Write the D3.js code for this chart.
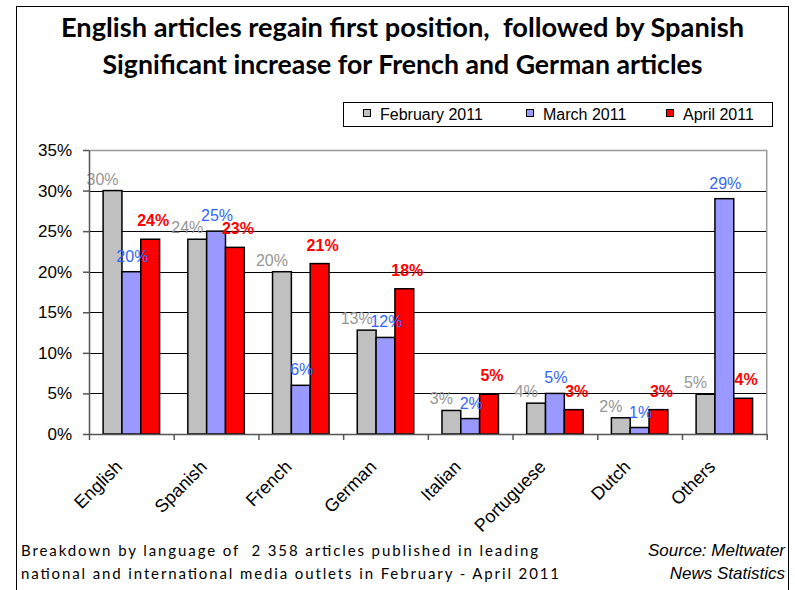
<!DOCTYPE html>
<html>
<head>
<meta charset="utf-8">
<script src="https://cdn.jsdelivr.net/npm/d3@7"></script>
<style>
  body { margin: 0; background: #fff; }
  text { font-family: "Liberation Sans", Arial, sans-serif; }
</style>
</head>
<body>
<div id="chart"></div>
<script>
// data
var languages = ["English", "Spanish", "French", "German", "Italian", "Portuguese", "Dutch", "Others"];
var seriesNames = ["February 2011", "March 2011", "April 2011"];
var february = [0.30, 0.24, 0.20, 0.128, 0.029, 0.038, 0.02, 0.049];
var march    = [0.20, 0.25, 0.06, 0.119, 0.019, 0.05, 0.008, 0.29];
var april    = [0.24, 0.23, 0.21, 0.179, 0.049, 0.03, 0.03, 0.044];
var yTicks = [0, 0.05, 0.10, 0.15, 0.20, 0.25, 0.30, 0.35];
var titleLines = ["English articles regain first position,  followed by Spanish",
                  "Significant increase for French and German articles"];
var noteLines = ["Breakdown by language of  2 358 articles published in leading",
                 "national and international media outlets in February - April 2011"];
var sourceLines = ["Source: Meltwater", "News Statistics"];

var W = 795, H = 590;
var barColors = ["#c0c0c0", "#9999ff", "#ff0000"];
var labelColors = ["#969696", "#3366ff", "#ff0000"];
var labelWeights = ["normal", "normal", "bold"];
var labelDx = [-10, 1, 3];      // nudges of the value labels per series
var labelDy = [-6, -10, -13];

var svg = d3.select("#chart")
  .append("svg")
    .attr("width", W)
    .attr("height", H);

svg.append("rect")
  .attr("width", W).attr("height", H).attr("fill", "#fff");

// outer frame
svg.append("rect")
  .attr("x", 16.5).attr("y", 6.5)
  .attr("width", 772).attr("height", 600)
  .attr("fill", "none").attr("stroke", "#000").attr("stroke-width", 1);

// title
var titleWidths = [683, 600];
svg.selectAll("text.title")
  .data(titleLines)
  .enter()
  .append("text")
    .attr("class", "title")
    .attr("x", 402.5)
    .attr("y", function(d, i){ return 37 + i * 37 })
    .attr("text-anchor", "middle")
    .attr("textLength", function(d, i){ return titleWidths[i] })
    .attr("lengthAdjust", "spacingAndGlyphs")
    .style("white-space", "pre")
    .style("font-family", "Lato, 'Open Sans', sans-serif")
    .style("font-weight", "bold")
    .style("font-size", "26px")
    .text(function(d){ return d });

// scales
var plot = {left: 89, right: 766.7, top: 150, bottom: 434};

var x0 = d3.scaleBand()
  .domain(languages)
  .range([plot.left, plot.right])
  .paddingInner(1/3)
  .paddingOuter(1/6);

var x1 = d3.scaleBand()
  .domain(seriesNames)
  .range([0, x0.bandwidth()]);

var xb = d3.scaleLinear()
  .domain([0, languages.length])
  .range([plot.left, plot.right]);

var y = d3.scaleLinear()
  .domain([0, 0.35])
  .range([plot.bottom, plot.top]);

// gridlines
svg.append("g")
  .selectAll("line")
  .data(yTicks.slice(1, -1))
  .enter()
  .append("line")
    .attr("x1", plot.left).attr("x2", plot.right)
    .attr("y1", function(d){ return Math.round(y(d)) + 0.5 })
    .attr("y2", function(d){ return Math.round(y(d)) + 0.5 })
    .attr("stroke", "#000")
    .attr("stroke-width", 1);

// plot border top and right
svg.append("path")
  .attr("d", "M" + plot.left + "," + (plot.top + 0.5) + "H" + plot.right + "V" + plot.bottom)
  .attr("fill", "none")
  .attr("stroke", "#999")
  .attr("stroke-width", 1.5);

// bars
var rows = languages.map(function(lang, i) {
  return {
    name: lang,
    values: [february[i], march[i], april[i]].map(function(v, s) {
      return {series: seriesNames[s], s: s, value: v};
    })
  };
});

var groups = svg.selectAll("g.lang")
  .data(rows)
  .enter()
  .append("g")
    .attr("class", "lang")
    .attr("transform", function(d){ return "translate(" + x0(d.name) + ",0)" });

groups.selectAll("rect")
  .data(function(d){ return d.values })
  .enter()
  .append("rect")
    .attr("x", function(d){ return x1(d.series) })
    .attr("y", function(d){ return y(d.value) })
    .attr("width", x1.bandwidth())
    .attr("height", function(d){ return plot.bottom - y(d.value) })
    .attr("fill", function(d){ return barColors[d.s] })
    .attr("stroke", "#000")
    .attr("stroke-width", 1.5);

// value labels
groups.selectAll("text.val")
  .data(function(d){ return d.values })
  .enter()
  .append("text")
    .attr("class", "val")
    .attr("x", function(d){ return x1(d.series) + x1.bandwidth() / 2 + labelDx[d.s] })
    .attr("y", function(d){ return y(d.value) + labelDy[d.s] })
    .attr("text-anchor", "middle")
    .style("font-size", "16px")
    .style("font-weight", function(d){ return labelWeights[d.s] })
    .style("fill", function(d){ return labelColors[d.s] })
    .text(function(d){ return d3.format(".0%")(d.value) });

// y axis
var yAxis = svg.append("g")
  .attr("transform", "translate(" + plot.left + ",0)")
  .call(d3.axisLeft(y).tickValues(yTicks).tickFormat(d3.format(".0%")).tickSize(6).tickPadding(11).tickSizeOuter(0));
yAxis.select(".domain").attr("stroke", "#555").attr("stroke-width", 1.5);
yAxis.selectAll(".tick line").attr("stroke", "#555").attr("stroke-width", 1.5);
yAxis.selectAll("text")
  .style("font-family", "'Liberation Sans', Arial, sans-serif")
  .style("font-size", "17px")
  .attr("fill", "#000");

// x axis (ticks between categories)
var xAxis = svg.append("g")
  .attr("transform", "translate(0," + plot.bottom + ")")
  .call(d3.axisBottom(xb).ticks(languages.length).tickFormat("").tickSize(6).tickSizeOuter(0));
xAxis.select(".domain").attr("stroke", "#555").attr("stroke-width", 1.5);
xAxis.selectAll(".tick line").attr("stroke", "#555").attr("stroke-width", 1.5);

// category labels
svg.selectAll("text.cat")
  .data(languages)
  .enter()
  .append("text")
    .attr("class", "cat")
    .attr("transform", function(d){
      return "translate(" + (x0(d) + x0.bandwidth() / 2 - 8) + "," + (plot.bottom + 34) + ") rotate(-45)";
    })
    .attr("text-anchor", "end")
    .style("font-size", "18px")
    .text(function(d){ return d });

// legend
var legend = svg.append("g");
legend.append("rect")
  .attr("x", 343.5).attr("y", 102.5)
  .attr("width", 429).attr("height", 24)
  .attr("fill", "#fff").attr("stroke", "#000").attr("stroke-width", 1);

var legendX = [363, 526, 666];
var items = legend.selectAll("g.item")
  .data(seriesNames)
  .enter()
  .append("g")
    .attr("class", "item")
    .attr("transform", function(d, i){ return "translate(" + legendX[i] + ",0)" });
items.append("rect")
  .attr("x", 0.5).attr("y", 109.5)
  .attr("width", 7).attr("height", 7)
  .attr("fill", function(d, i){ return barColors[i] })
  .attr("stroke", "#000");
items.append("text")
  .attr("x", 17).attr("y", 120)
  .style("font-size", "16px")
  .text(function(d){ return d });

// footer box hides the bottom of the long labels
svg.append("rect")
  .attr("x", 17).attr("y", 534)
  .attr("width", 771).attr("height", 56)
  .attr("fill", "#fff");

svg.selectAll("text.note")
  .data(noteLines)
  .enter()
  .append("text")
    .attr("class", "note")
    .attr("x", 21)
    .attr("y", function(d, i){ return 556 + i * 23 })
    .attr("textLength", function(d, i){ return i === 0 ? 517 : 538 })
    .attr("lengthAdjust", "spacing")
    .style("white-space", "pre")
    .style("font-family", "Lato, 'Open Sans', sans-serif")
    .style("font-size", "15px")
    .text(function(d){ return d });

svg.selectAll("text.source")
  .data(sourceLines)
  .enter()
  .append("text")
    .attr("class", "source")
    .attr("x", 785)
    .attr("y", function(d, i){ return 556 + i * 23 })
    .attr("text-anchor", "end")
    .style("font-style", "italic")
    .style("font-size", "17px")
    .text(function(d){ return d });
</script>
</body>
</html>
